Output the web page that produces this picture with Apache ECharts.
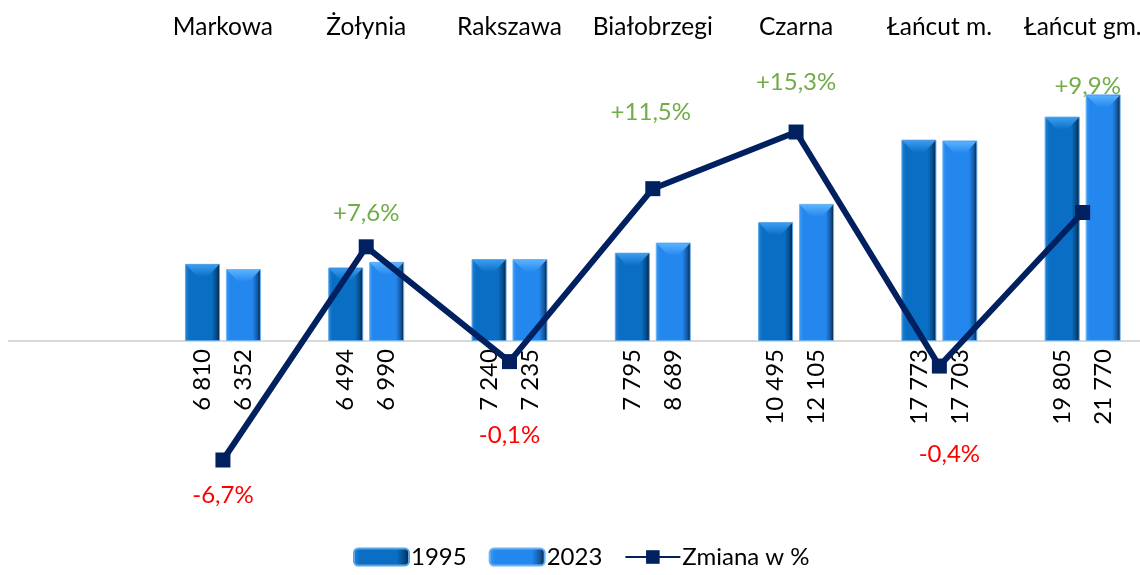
<!DOCTYPE html>
<html>
<head>
<meta charset="utf-8">
<script src="https://cdn.jsdelivr.net/npm/echarts@6/dist/echarts.min.js"></script>
<style>
  html, body { margin: 0; padding: 0; background: #fff; }
  #chart { width: 1140px; height: 575px; }
</style>
</head>
<body>
<div id="chart"></div>
<script>
const categories = ['Markowa', 'Żołynia', 'Rakszawa', 'Białobrzegi', 'Czarna', 'Łańcut m.', 'Łańcut gm.'];
const pop1995 = [6810, 6494, 7240, 7795, 10495, 17773, 19805];
const pop2023 = [6352, 6990, 7235, 8689, 12105, 17703, 21770];
const changePct = [-6.7, 7.6, -0.1, 11.5, 15.3, -0.4, 9.9];

// hand-placed offsets of the % labels (dx, dy from the marker), like in the source chart
const pctLabelOffset = [[0, 35], [0, -34], [0, 74], [-2, -76], [0, -50], [10, 88], [5, -126]];

const FONT = 'Lato';
const BAR_W = 35;
const GROUP_SHIFT = 20.5; // half of bar width + gap
const fmtThousands = (v) => String(v).replace(/\B(?=(\d{3})+(?!\d))/g, ' ');
const fmtPct = (v) => (v > 0 ? '+' : '') + v.toFixed(1).replace('.', ',') + '%';

function barGradient(light, main, dark) {
  return new echarts.graphic.LinearGradient(0, 0, 1, 0, [
    { offset: 0, color: light },
    { offset: 0.12, color: main },
    { offset: 0.76, color: main },
    { offset: 0.9, color: dark },
    { offset: 1, color: '#031a33' },
  ]);
}

// light bevel on top of each bar
function bevel(name, data, shift, top, bottom) {
  return {
    name,
    type: 'pictorialBar',
    data,
    symbol: 'path://M0,0 L32,0 L21,12 L11,12 Z',
    symbolSize: [BAR_W - 2, 12],
    symbolPosition: 'end',
    symbolOffset: [shift, 1],
    itemStyle: {
      color: new echarts.graphic.LinearGradient(0, 0, 0, 1, [
        { offset: 0, color: top },
        { offset: 1, color: bottom },
      ]),
    },
    silent: true,
    z: 4,
  };
}

const barLabel = {
  show: true,
  position: 'bottom',
  rotate: 90,
  align: 'right',
  verticalAlign: 'middle',
  distance: 8,
  fontFamily: FONT,
  fontSize: 24,
  color: '#000',
  formatter: (p) => fmtThousands(p.value),
};

const chart = echarts.init(document.getElementById('chart'));

const option = {
  animation: false,
  textStyle: { fontFamily: FONT },
  grid: {
    left: 151.3, width: 1003, top: 23.8, bottom: 52.7, outerBoundsMode: 'none',
  },
  legend: {
    bottom: 1,
    left: 348,
    itemWidth: 55,
    itemHeight: 17,
    itemGap: 22,
    textStyle: { fontFamily: FONT, fontSize: 24, color: '#000', padding: [0, 0, 0, -3] },
    data: ['1995', '2023', 'Zmiana w %'],
  },
  xAxis: [
    {
      type: 'category',
      data: categories,
      position: 'bottom',
      axisLine: { show: false },
      axisTick: { show: false },
      axisLabel: { show: false },
    },
    {
      type: 'category',
      data: categories,
      position: 'top',
      axisLine: { show: false },
      axisTick: { show: false },
      axisLabel: {
        show: true,
        interval: 0,
        margin: -16,
        fontFamily: FONT,
        fontSize: 24.5,
        color: '#000',
      },
    },
  ],
  yAxis: [
    { type: 'value', min: -16000, max: 28000, show: false, splitLine: { show: false } },
    { type: 'value', min: -10.88, max: 22.56, show: false, splitLine: { show: false } },
  ],
  series: [
    {
      name: '1995',
      type: 'bar',
      data: pop1995,
      barWidth: BAR_W,
      barGap: '17%',
      itemStyle: {
        color: barGradient('#2a86d6', '#0a6fc4', '#064a85'),
        borderColor: '#5aa6e8',
        borderWidth: 1,
      },
      label: barLabel,
      z: 3,
    },
    {
      name: '2023',
      type: 'bar',
      data: pop2023,
      barWidth: BAR_W,
      itemStyle: {
        color: barGradient('#3c9af5', '#2387ee', '#1558a0'),
        borderColor: '#6ab4f4',
        borderWidth: 1,
      },
      label: barLabel,
      z: 3,
    },
    bevel('bevel1995', pop1995, -GROUP_SHIFT, '#3a9cf0', '#0a6fc4'),
    bevel('bevel2023', pop2023, GROUP_SHIFT, '#5ab2ff', '#2387ee'),
    {
      name: 'Zmiana w %',
      type: 'line',
      yAxisIndex: 1,
      data: changePct.map((v, i) => ({
        value: v,
        label: {
          offset: pctLabelOffset[i],
          color: v < 0 ? '#ff0000' : '#70ad47',
        },
      })),
      symbol: 'rect',
      symbolSize: 15,
      lineStyle: { color: '#002060', width: 6 },
      itemStyle: { color: '#002060' },
      label: {
        show: true,
        position: 'inside',
        fontFamily: FONT,
        fontSize: 24,
        formatter: (p) => fmtPct(p.value),
      },
      z: 5,
    },
  ],
};

chart.setOption(option);

// zero line of the bar axis, drawn across the whole plot area as in the source
const y0 = chart.convertToPixel({ yAxisIndex: 0 }, 0);
chart.setOption({
  graphic: [{
    type: 'line',
    shape: { x1: 8, y1: y0, x2: 1140, y2: y0 },
    style: { stroke: '#d9d9d9', lineWidth: 2 },
    z: 1,
  }],
});
</script>
</body>
</html>
